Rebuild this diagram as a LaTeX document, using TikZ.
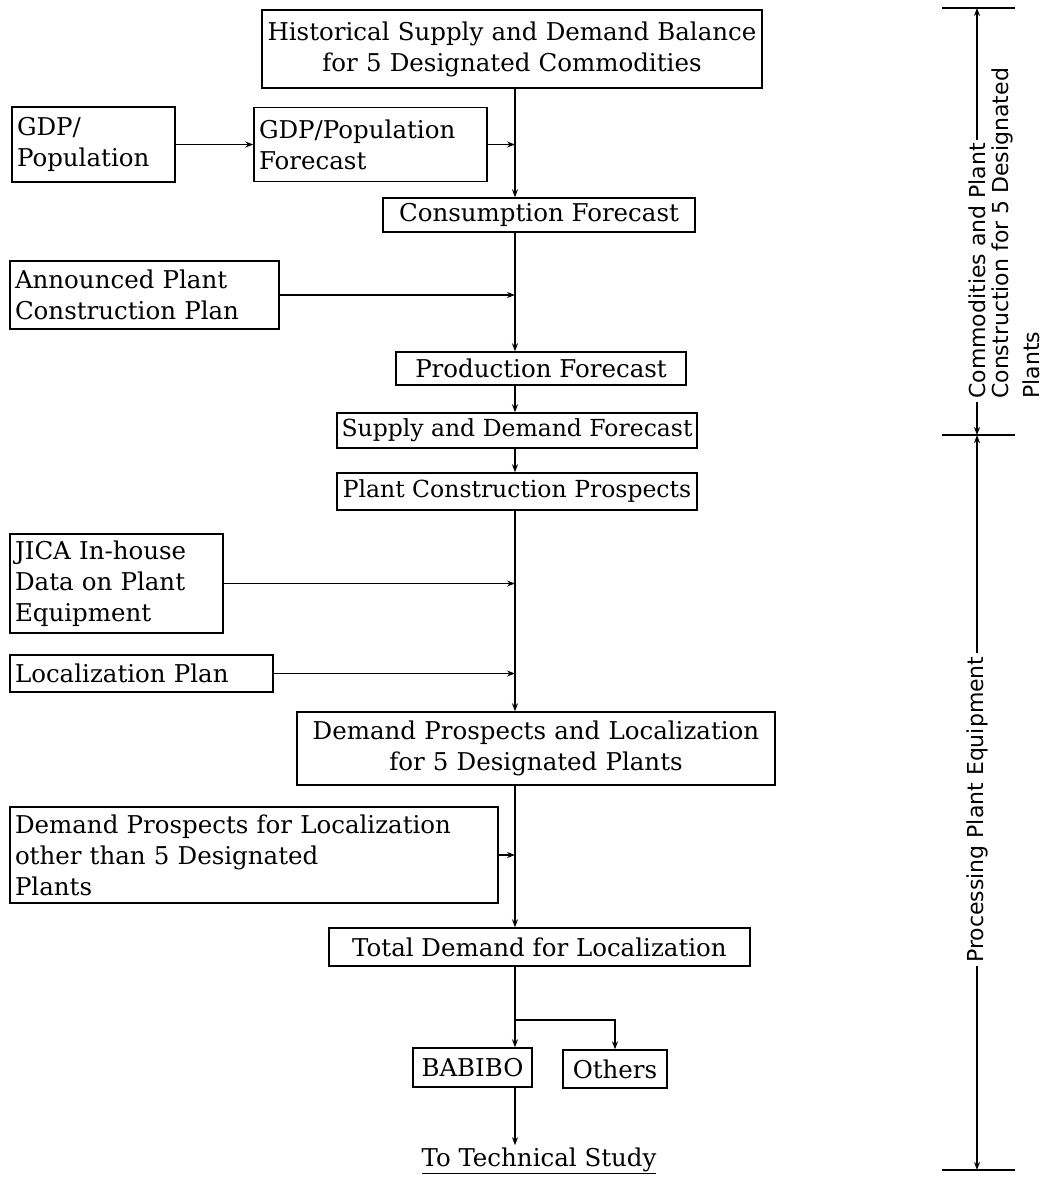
\documentclass[tikz,border=0pt]{standalone}
\usepackage{fontspec}
\setmainfont{DejaVu Serif}
\newfontfamily\sidefont{DejaVu Sans}
\usetikzlibrary{arrows.meta}
\begin{document}
\begin{tikzpicture}[x=1pt,y=-1pt,
  box/.style={draw, line width=1.4pt, inner xsep=5pt, inner ysep=0pt, font=\fontsize{24.5}{31}\selectfont},
  bl/.style={box, align=left},
  bc/.style={box, align=center},
  tight/.style={font=\fontsize{23.5}{31}\selectfont, inner xsep=2pt},
  arr/.style={line width=1.4pt, -{Stealth[length=8pt,width=6pt]}},
  ln/.style={line width=1.4pt},
  side/.style={font=\sidefont\fontsize{22}{31}\selectfont, rotate=90, inner sep=3pt, align=left}]
\useasboundingbox (0,0) rectangle (1054,1178);
\coordinate (mx) at (515,0);

\node[bc, text width=490, minimum height=78] (hist) at (512,49) {Historical Supply and Demand Balance\\for 5 Designated Commodities};
\node[bl, text width=153, minimum height=75] (gdp) at (93.5,144.5) {GDP/\\Population};
\node[bl, text width=223, minimum height=74] (gdpf) at (370.5,144.5) {GDP/Population\\Forecast};
\node[box, minimum width=312, minimum height=34] (cons) at (539,215) {Consumption Forecast};
\node[bl, text width=259, minimum height=68] (ann) at (144.5,295) {Announced Plant\\Construction Plan};
\node[box, minimum width=290, minimum height=33] (prod) at (541,368.5) {Production Forecast};
\node[box, tight, minimum width=360, minimum height=35] (sdf) at (517,430.5) {Supply and Demand Forecast};
\node[box, tight, minimum width=360, minimum height=37] (pcp) at (517,491.5) {Plant Construction Prospects};
\node[bl, text width=203, minimum height=99] (jica) at (116.5,583.5) {JICA In-house\\Data on Plant\\Equipment};
\node[bl, text width=253, minimum height=37] (loc) at (141.5,673.5) {Localization Plan};
\node[bc, text width=468, minimum height=73] (dpl) at (536,748.5) {Demand Prospects and Localization\\for 5 Designated Plants};
\node[bl, text width=478, minimum height=96] (dpo) at (254,855) {Demand Prospects for Localization\\other than 5 Designated\\Plants};
\node[box, minimum width=421, minimum height=38] (tot) at (539.5,947) {Total Demand for Localization};
\node[box, minimum width=119, minimum height=39] (bab) at (472.5,1067.5) {BABIBO};
\node[box, minimum width=104, minimum height=38] (oth) at (615,1069) {Others};
\node[font=\fontsize{24.5}{31}\selectfont, inner sep=2pt, anchor=base] (tech) at (539,1166) {\underline{To Technical Study}};

\draw[arr] (hist.south -| mx) -- (cons.north -| mx);
\draw[arr] (gdp.east) -- (gdpf.west);
\draw[arr] (gdpf.east) -- (gdpf.east -| mx);
\draw[arr] (cons.south -| mx) -- (prod.north -| mx);
\draw[arr] (ann.east) -- (ann.east -| mx);
\draw[arr] (prod.south -| mx) -- (sdf.north -| mx);
\draw[arr] (sdf.south -| mx) -- (pcp.north -| mx);
\draw[arr] (pcp.south -| mx) -- (dpl.north -| mx);
\draw[arr] (jica.east) -- (jica.east -| mx);
\draw[arr] (loc.east) -- (loc.east -| mx);
\draw[arr] (dpl.south -| mx) -- (tot.north -| mx);
\draw[arr] (dpo.east) -- (dpo.east -| mx);
\coordinate (br) at (515,1020);
\draw[ln] (tot.south -| mx) -- (br);
\draw[arr] (br) -- (bab.north -| mx);
\draw[arr] (br) -| (oth.north);
\draw[arr] (bab.south -| mx) -- (tech.north -| mx);

% right-hand bracket
\coordinate (bt) at (977,8);
\coordinate (bm) at (977,435);
\coordinate (bb) at (977,1170);
\coordinate (btl) at (942,8);  \coordinate (btr) at (1015,8);
\coordinate (bml) at (942,435); \coordinate (bmr) at (1015,435);
\coordinate (bbl) at (942,1170); \coordinate (bbr) at (1015,1170);
\draw[ln] (btl) -- (btr);
\draw[ln] (bml) -- (bmr);
\draw[ln] (bbl) -- (bbr);

\node[side, anchor=west] (c1) at (977,402) {Commodities and Plant};
\node[side, anchor=north west] (c2) at (c1.south west) {Construction for 5 Designated\\Plants};
\draw[arr] (c1.east) -- (bt);
\draw[arr] (c1.west) -- (bm);

\node[side, anchor=west] (p1) at (977,966) {Processing Plant Equipment};
\draw[arr] (p1.east) -- (bm);
\draw[arr] (p1.west) -- (bb);
\end{tikzpicture}
\end{document}
